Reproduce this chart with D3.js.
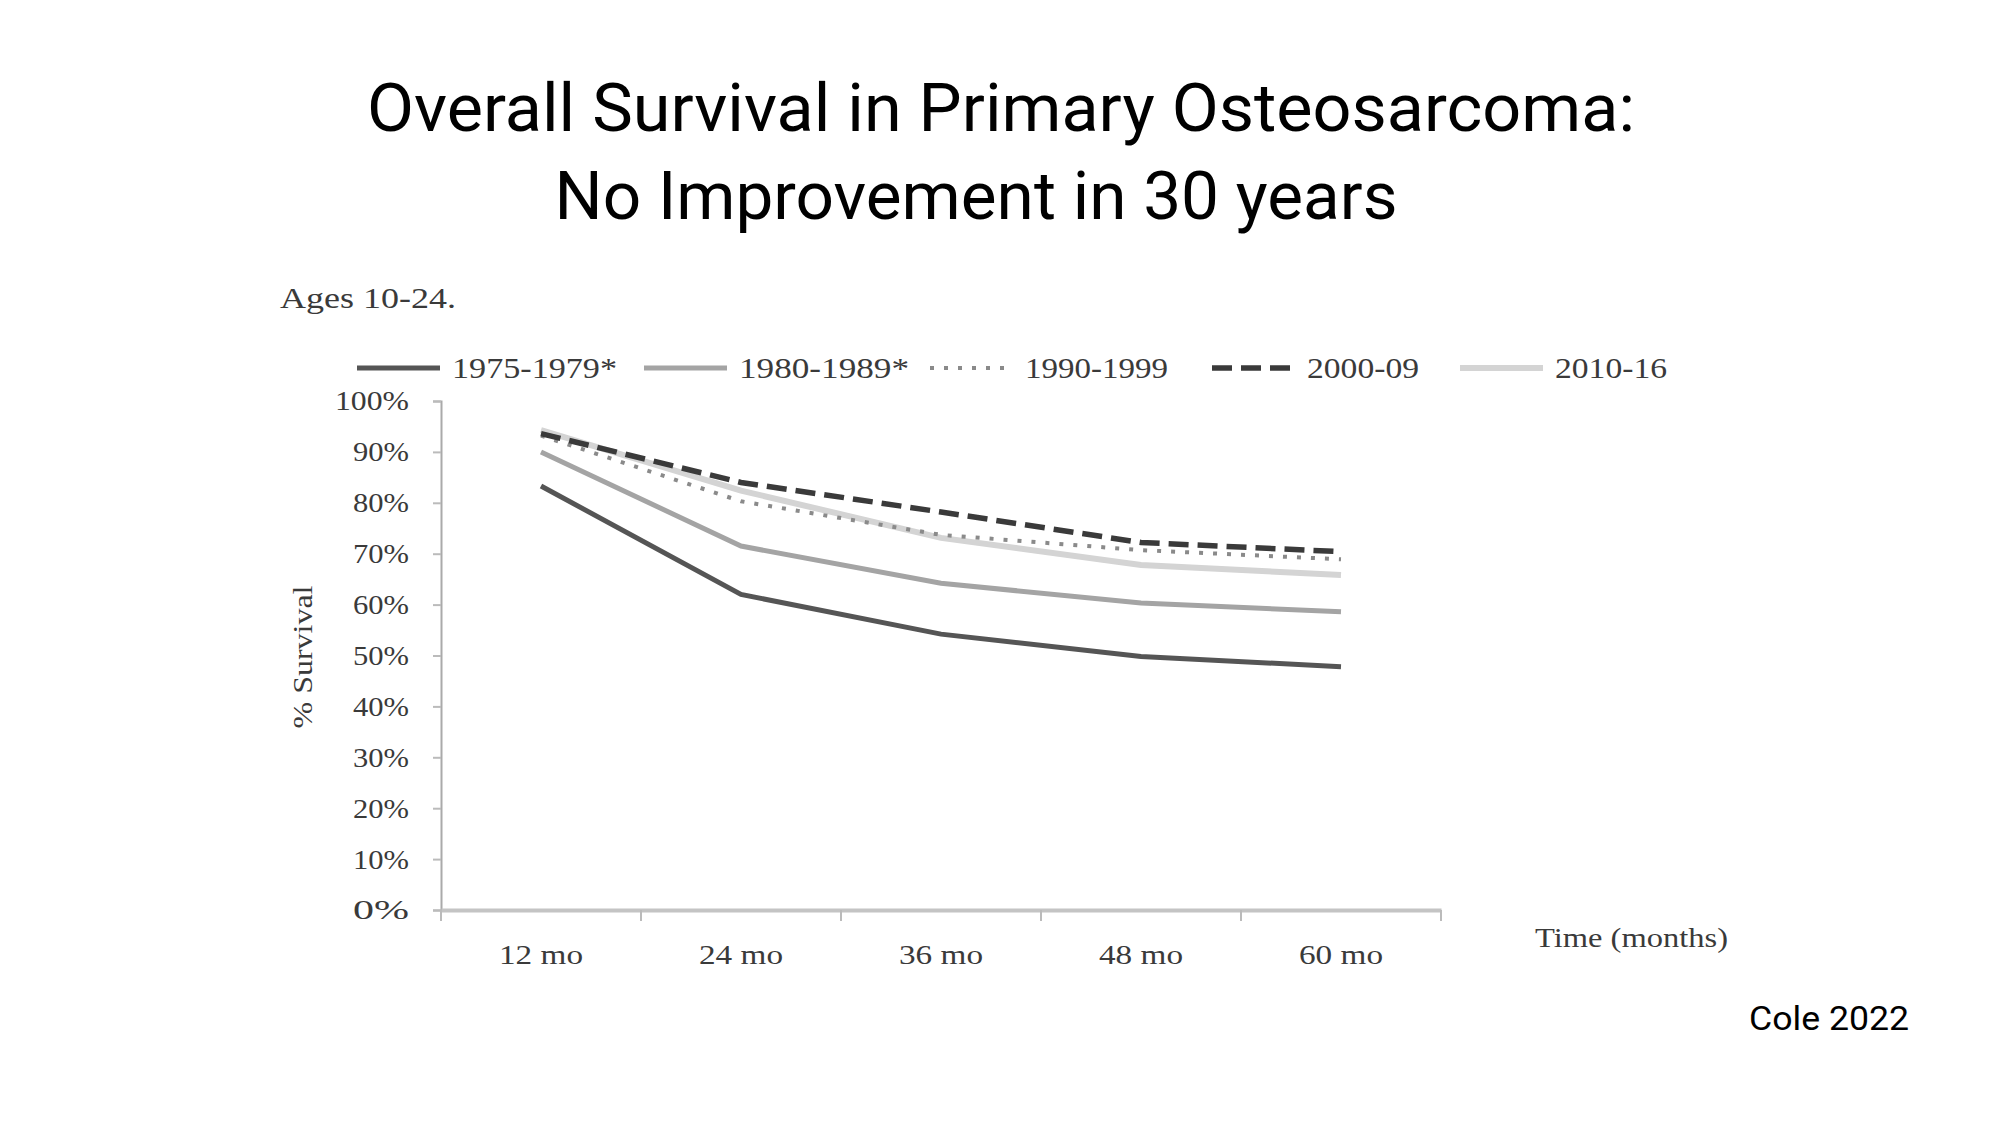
<!DOCTYPE html>
<html>
<head>
<meta charset="utf-8">
<script src="https://cdn.jsdelivr.net/npm/d3@7"></script>
<style>
  body { margin: 0; background: #fff; }
  svg { display: block; }
</style>
</head>
<body>
<svg id="chart"></svg>
<script>
// data
const months = ["12 mo", "24 mo", "36 mo", "48 mo", "60 mo"];
const periods = ["1975-1979*", "1980-1989*", "1990-1999", "2000-09", "2010-16"];
const surv1975 = [83.3, 62.0, 54.2, 49.8, 47.8];
const surv1980 = [90.0, 71.5, 64.2, 60.3, 58.6];
const surv1990 = [93.2, 80.3, 73.7, 70.7, 68.9];
const surv2000 = [93.6, 84.0, 78.2, 72.2, 70.4];
const surv2010 = [94.3, 82.4, 73.1, 67.8, 65.8];
const yTicks = [0, 10, 20, 30, 40, 50, 60, 70, 80, 90, 100];

const series = [
  { name: periods[0], values: surv1975, color: "#555", width: 5, dash: null },
  { name: periods[1], values: surv1980, color: "#a4a4a4", width: 5, dash: null },
  { name: periods[2], values: surv1990, color: "#8a8a8a", width: 4, dash: "4,10" },
  { name: periods[3], values: surv2000, color: "#3a3a3a", width: 5.5, dash: "20,9" },
  { name: periods[4], values: surv2010, color: "#d4d4d4", width: 6, dash: null }
];
const drawOrder = [4, 1, 0, 2, 3];

const width = 2000, height = 1125;
const svg = d3.select("#chart").attr("width", width).attr("height", height);
const serif = "'Liberation Serif', 'Times New Roman', serif";
const sans = "Roboto, 'Open Sans', sans-serif";

// title
svg.append("text")
  .attr("x", 1001).attr("y", 131)
  .attr("text-anchor", "middle")
  .attr("font-family", sans).attr("font-size", 66)
  .attr("textLength", 1268).attr("lengthAdjust", "spacingAndGlyphs")
  .text("Overall Survival in Primary Osteosarcoma:");
svg.append("text")
  .attr("x", 976).attr("y", 219)
  .attr("text-anchor", "middle")
  .attr("font-family", sans).attr("font-size", 66)
  .attr("textLength", 843).attr("lengthAdjust", "spacingAndGlyphs")
  .text("No Improvement in 30 years");

svg.append("text")
  .attr("x", 1749).attr("y", 1030)
  .attr("font-family", sans).attr("font-size", 33)
  .attr("textLength", 160).attr("lengthAdjust", "spacingAndGlyphs")
  .text("Cole 2022");

// chart
const x = d3.scaleBand().domain(months).range([441, 1441]);
const y = d3.scaleLinear().domain([0, 100]).range([910, 401]);

svg.append("text")
  .attr("x", 280).attr("y", 308)
  .attr("font-family", serif).attr("font-size", 29).attr("fill", "#3a3a3a")
  .attr("textLength", 176).attr("lengthAdjust", "spacingAndGlyphs")
  .text("Ages 10-24.");

const yAxis = svg.append("g")
  .attr("transform", "translate(441,0)")
  .call(d3.axisLeft(y).tickValues(yTicks).tickFormat(d => d + "%").tickSize(8).tickPadding(24));
yAxis.select(".domain").attr("stroke", "#aaa").attr("stroke-width", 2);
yAxis.selectAll(".tick line").attr("stroke", "#bbb").attr("stroke-width", 2);
yAxis.selectAll("text")
  .attr("font-family", serif).attr("font-size", 28).attr("fill", "#3a3a3a")
  .attr("textLength", d => d === 100 ? 74 : 56).attr("lengthAdjust", "spacingAndGlyphs");

const xAxis = svg.append("g")
  .attr("transform", "translate(0,910)")
  .call(d3.axisBottom(x).tickSize(0).tickPadding(34));
xAxis.select(".domain").attr("stroke", "#c4c4c4").attr("stroke-width", 4);
xAxis.selectAll("text")
  .attr("font-family", serif).attr("font-size", 28).attr("fill", "#3a3a3a")
  .attr("textLength", 84).attr("lengthAdjust", "spacingAndGlyphs");

// tick marks at band edges
const edges = months.map(m => x(m)).concat([x.range()[1]]);
xAxis.selectAll(".edge")
  .data(edges)
  .enter().append("line")
  .attr("class", "edge")
  .attr("x1", d => d).attr("x2", d => d)
  .attr("y1", 0).attr("y2", 11)
  .attr("stroke", "#bbb").attr("stroke-width", 2);

svg.append("text")
  .attr("transform", "translate(312,657) rotate(-90)")
  .attr("text-anchor", "middle")
  .attr("font-family", serif).attr("font-size", 27).attr("fill", "#3a3a3a")
  .attr("textLength", 143).attr("lengthAdjust", "spacingAndGlyphs")
  .text("% Survival");

svg.append("text")
  .attr("x", 1535).attr("y", 947)
  .attr("font-family", serif).attr("font-size", 28).attr("fill", "#3a3a3a")
  .attr("textLength", 193).attr("lengthAdjust", "spacingAndGlyphs")
  .text("Time (months)");

// lines
const line = d3.line()
  .x((d, i) => x(months[i]) + x.bandwidth() / 2)
  .y(d => y(d));

svg.append("g").selectAll("path")
  .data(drawOrder.map(i => series[i]))
  .enter().append("path")
  .attr("d", d => line(d.values))
  .attr("fill", "none")
  .attr("stroke", d => d.color)
  .attr("stroke-width", d => d.width)
  .attr("stroke-dasharray", d => d.dash);

// legend
const legendX = [357, 644, 930, 1212, 1460];
const legendTextW = [165, 170, 143, 112, 112];
const legend = svg.append("g").selectAll("g")
  .data(series)
  .enter().append("g")
  .attr("transform", (d, i) => `translate(${legendX[i]},368)`);
legend.append("line")
  .attr("x1", 0).attr("x2", 83)
  .attr("stroke", d => d.color)
  .attr("stroke-width", d => d.width)
  .attr("stroke-dasharray", d => d.dash);
legend.append("text")
  .attr("x", 95).attr("y", 10)
  .attr("font-family", serif).attr("font-size", 29).attr("fill", "#3a3a3a")
  .attr("textLength", (d, i) => legendTextW[i]).attr("lengthAdjust", "spacingAndGlyphs")
  .text(d => d.name);
</script>
</body>
</html>
